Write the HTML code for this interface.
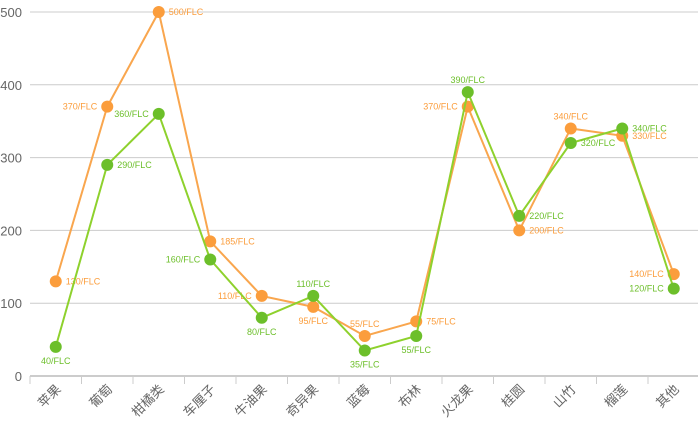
<!DOCTYPE html>
<html><head><meta charset="utf-8"><style>
body{margin:0;background:#fff;}
svg{display:block;font-family:"Liberation Sans","Noto Sans CJK SC",sans-serif;}
</style></head><body>
<svg id="chart" width="698" height="424" xmlns="http://www.w3.org/2000/svg"></svg>
<script>
const categories=["苹果","葡萄","柑橘类","车厘子","牛油果","奇异果","蓝莓","布林","火龙果","桂圆","山竹","榴莲","其他"];
const seriesOrange=[130,370,500,185,110,95,55,75,370,200,340,330,140];
const seriesGreen=[40,290,360,160,80,110,35,55,390,220,320,340,120];
const yTicks=[0,100,200,300,400,500];
const orangePos=["r","l","r","r","l","b","t","r","l","r","t","r","l"];
const greenPos=["b","r","l","l","b","t","b","b","t","r","r","r","l"];
const svg=document.getElementById('chart');
const NS="http://www.w3.org/2000/svg";
const x0=30,bw=51.5,yb=376,yt=12;
const X=i=>x0+bw*(i+0.5);
const Y=v=>yb-(v/500)*(yb-yt);
function mk(t,a,p){const e=document.createElementNS(NS,t);for(const k in a)e.setAttribute(k,a[k]);(p||svg).appendChild(e);return e;}
yTicks.forEach(v=>{
 if(v>0){const g=mk('line',{x1:x0,x2:698,y1:Y(v),y2:Y(v),stroke:'#cccccc','stroke-width':1});
 
 }
 const t=mk('text',{x:22,y:Y(v)+5,'text-anchor':'end','font-size':13,fill:'#666'});t.textContent=v;
 
 
});
const ax=mk('line',{x1:x0,x2:698,y1:yb,y2:yb,stroke:'#ccc','stroke-width':2});


categories.forEach((c,i)=>{
 const tk=mk('line',{x1:x0+bw*i,x2:x0+bw*i,y1:yb,y2:yb+8,stroke:'#ccc','stroke-width':1});
 
 
 const t=mk('text',{x:X(i)+6,y:yb+14,'text-anchor':'end','font-size':13,fill:'#666',transform:`rotate(-45 ${X(i)+6} ${yb+14})`});
 t.textContent=c;
 
 
});
function series(vals,pos,lc,pc,name){
 const pl=mk('polyline',{points:vals.map((v,i)=>X(i)+','+Y(v)).join(' '),fill:'none',stroke:lc,'stroke-width':2});
 
 
 vals.forEach((v,i)=>{
  const c=mk('circle',{cx:X(i),cy:Y(v),r:6,fill:pc});
  
  
  const p=pos[i];let tx=X(i),ty=Y(v)+3,an='middle';
  if(p==='r'){tx+=10;an='start';}else if(p==='l'){tx-=10;an='end';}
  else if(p==='t'){ty=Y(v)-9;}else{ty=Y(v)+17;}
  const t=mk('text',{x:tx,y:ty,'text-anchor':an,'font-size':9,fill:pc});
  t.textContent=v+'/FLC';
  
  
 });
}
series(seriesOrange,orangePos,'#f9a64e','#fb9d3c','orange-series');
series(seriesGreen,greenPos,'#8ed12d','#6cbf2a','green-series');
</script>
</body></html>
